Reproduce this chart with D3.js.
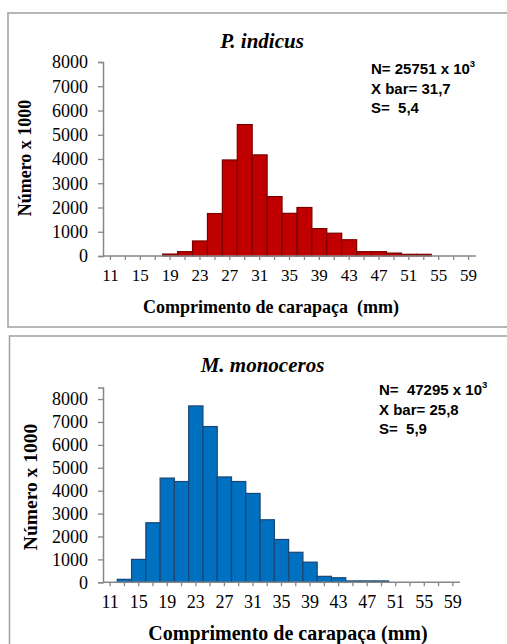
<!DOCTYPE html>
<html>
<head>
<meta charset="utf-8">
<script src="https://cdn.jsdelivr.net/npm/d3@7"></script>
<style>
  html, body { margin: 0; padding: 0; background: #fff; }
  svg { display: block; }
  svg text { white-space: pre; }
</style>
</head>
<body>
<svg id="chart" width="507" height="644"></svg>
<script>
// Carapace length classes (mm)
const sizeClasses = [11, 13, 15, 17, 19, 21, 23, 25, 27, 29, 31, 33, 35, 37, 39, 41, 43, 45, 47, 49, 51, 53, 55, 57, 59];
// Classes that carry a label on the x axis
const xTickLabels = ["11", "15", "19", "23", "27", "31", "35", "39", "43", "47", "51", "55", "59"];
// Numbers (x 1000) per length class
const indicusCounts = [0, 0, 0, 0, 80, 180, 620, 1750, 3960, 5420, 4170, 2450, 1760, 2000, 1130, 940, 670, 180, 180, 120, 70, 70, 0, 0, 0];
const monocerosCounts = [0, 130, 1000, 2600, 4550, 4400, 7700, 6800, 4600, 4400, 3880, 2730, 1870, 1310, 880, 260, 200, 60, 60, 60, 0, 0, 0, 0, 0];
// Y axis tick values
const yTicks = [0, 1000, 2000, 3000, 4000, 5000, 6000, 7000, 8000];
// Summary statistics
const indicusStats = { n: "N= 25751 x 10", xbar: "X bar= 31,7", s: "S=  5,4" };
const monocerosStats = { n: "N=  47295 x 10", xbar: "X bar= 25,8", s: "S=  5,9" };

const svg = d3.select("#chart");
const serif = "'Liberation Serif', 'Times New Roman', serif";

function drawPanel(cfg) {
  const g = svg.append("g");

  // panel frame
  g.append("rect")
    .attr("x", cfg.frame[0]).attr("y", cfg.frame[1])
    .attr("width", cfg.frame[2]).attr("height", cfg.frame[3])
    .attr("fill", "#fff").attr("stroke", "#a5a5a5").attr("stroke-width", 1.6);

  const x = d3.scaleBand().domain(sizeClasses).range([cfg.left, cfg.right]).padding(0);
  const y = d3.scaleLinear().domain([0, cfg.yMax]).range([cfg.bottom, cfg.top]);

  // bars
  g.append("g").selectAll("rect")
    .data(cfg.values.map((v, i) => ({ c: sizeClasses[i], v })).filter(d => d.v > 0))
    .join("rect")
    .attr("x", d => x(d.c))
    .attr("y", d => y(d.v))
    .attr("width", x.bandwidth())
    .attr("height", d => y(0) - y(d.v))
    .attr("fill", cfg.fill)
    .attr("stroke", cfg.stroke)
    .attr("stroke-width", 1.2);

  // y axis
  const yAxis = g.append("g")
    .attr("transform", `translate(${cfg.left},0)`)
    .call(d3.axisLeft(y).tickValues(yTicks).tickSize(5).tickPadding(10).tickFormat(d3.format("d")));
  yAxis.select(".domain").attr("stroke", "#878787").attr("stroke-width", 1.5);
  yAxis.selectAll(".tick line").attr("stroke", "#878787").attr("stroke-width", 1.3);
  yAxis.selectAll(".tick text")
    .attr("font-family", serif)
    .attr("font-size", cfg.yTickFont).attr("fill", "#000");

  // x axis: a tick at every class, a label at every other class
  const xAxis = g.append("g")
    .attr("transform", `translate(0,${cfg.bottom})`)
    .call(d3.axisBottom(x).tickSize(4).tickPadding(cfg.xPad)
      .tickFormat(d => xTickLabels.includes(String(d)) ? String(d) : ""));
  xAxis.select(".domain").attr("stroke", "#878787").attr("stroke-width", 1.5)
    .attr("d", `M${cfg.left},0H${cfg.right}`);
  xAxis.selectAll(".tick line").attr("stroke", "#878787").attr("stroke-width", 1.3);
  xAxis.selectAll(".tick text")
    .attr("font-family", serif)
    .attr("font-size", cfg.xTickFont).attr("fill", "#000");

  // title
  g.append("text")
    .attr("x", cfg.titleX).attr("y", cfg.titleY)
    .attr("text-anchor", "middle")
    .attr("font-family", serif)
    .attr("font-weight", "bold").attr("font-style", "italic")
    .attr("font-size", 21)
    .text(cfg.title);

  // axis titles
  g.append("text")
    .attr("transform", `translate(${cfg.yTitleX},${cfg.yTitleY}) rotate(-90)`)
    .attr("text-anchor", "middle")
    .attr("font-family", serif)
    .attr("font-weight", "bold").attr("font-size", cfg.yTitleFont)
    .text("Número x 1000");

  g.append("text")
    .attr("x", cfg.xTitleX).attr("y", cfg.xTitleY)
    .attr("text-anchor", "middle")
    .attr("font-family", serif)
    .attr("font-weight", "bold").attr("font-size", cfg.xTitleFont)
    .text(cfg.xTitle);

  // statistics box
  const st = g.append("g")
    .attr("font-family", "'Liberation Sans', Arial, sans-serif")
    .attr("font-weight", "bold").attr("font-size", 15);
  const nText = st.append("text").attr("x", cfg.statX).attr("y", cfg.statY);
  nText.append("tspan").text(cfg.stats.n);
  nText.append("tspan").attr("dy", -7).attr("font-size", 9.5).text("3");
  st.append("text").attr("x", cfg.statX).attr("y", cfg.statY + 19.5).text(cfg.stats.xbar);
  st.append("text").attr("x", cfg.statX).attr("y", cfg.statY + 39).text(cfg.stats.s);
}

drawPanel({
  frame: [8, 13, 520, 314],
  left: 103, right: 476, top: 62, bottom: 256, yMax: 8000,
  values: indicusCounts, fill: "#c00000", stroke: "#7a0000",
  yTickFont: 18, xTickFont: 17, xPad: 9,
  title: "P. indicus", titleX: 262, titleY: 48,
  yTitleX: 31, yTitleY: 158, yTitleFont: 18,
  xTitle: "Comprimento de carapaça  (mm)", xTitleX: 271, xTitleY: 313, xTitleFont: 18,
  stats: indicusStats, statX: 371, statY: 74
});

drawPanel({
  frame: [9.5, 336, 520, 330],
  left: 103, right: 460, top: 387.6, bottom: 582.3, yMax: 8500,
  values: monocerosCounts, fill: "#0070c0", stroke: "#1b4674",
  yTickFont: 18, xTickFont: 18, xPad: 9,
  title: "M. monoceros", titleX: 262.5, titleY: 372,
  yTitleX: 37, yTitleY: 487, yTitleFont: 19.5,
  xTitle: "Comprimento de carapaça (mm)", xTitleX: 288, xTitleY: 640, xTitleFont: 20,
  stats: monocerosStats, statX: 379, statY: 395
});
</script>
</body>
</html>
